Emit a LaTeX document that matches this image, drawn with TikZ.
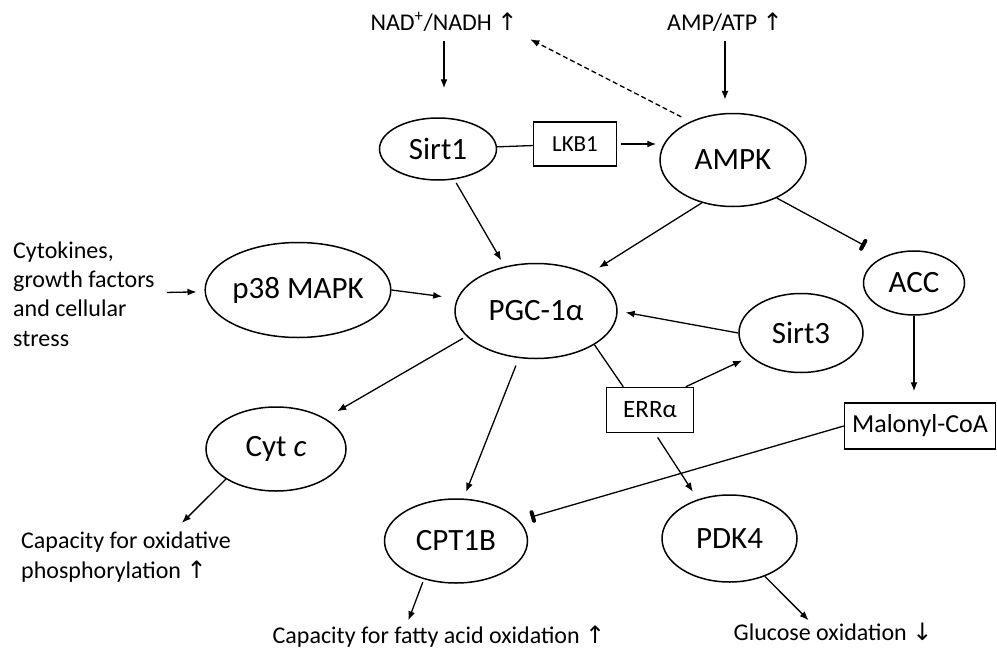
\documentclass[tikz,border=0pt]{standalone}
\usepackage{fontspec}
\setmainfont{Carlito}
\newfontfamily\arrowfont{DejaVu Sans}
\usetikzlibrary{arrows.meta,shapes.geometric,positioning}
\newcommand{\uparr}{{\arrowfont\char"2191}}
\newcommand{\downarr}{{\arrowfont\char"2193}}

\begin{document}
\begin{tikzpicture}[x=1pt,y=-1pt,
    prot/.style={draw,ellipse,line width=1.5pt,inner sep=0pt,
      font=\fontsize{31}{37}\selectfont},
    mol/.style={draw,rectangle,line width=1.5pt,inner sep=0pt},
    txt/.style={inner sep=2pt,font=\fontsize{24}{29.3}\selectfont},
    act/.style={line width=1.3pt,-{Latex[length=9pt,width=7pt]}},
    inh/.style={line width=1.3pt,-{Bar[width=9pt,line width=4pt,round]}},
    lnk/.style={line width=1.3pt}]
      \useasboundingbox (0,0) rectangle (997,648);
      % upstream signals
      \node [txt] (nad) at (444,22) {NAD\textsuperscript{+}/NADH \uparr};
      \node [txt] (amp) at (725,22) {AMP/ATP \uparr};
      \node [txt,anchor=west,align=left] (cyto) at (11,294)
      {Cytokines,\\growth factors\\and cellular\\stress};
      % sensors and kinases
      \node [prot,minimum width=117pt,minimum height=62pt] (sirtone)
      at (438,149) {Sirt1};
      \node [mol,minimum width=83pt,minimum height=44pt,
      font=\fontsize{23}{27}\selectfont] (lkb) at (575,144) {LKB1};
      \node [prot,minimum width=146pt,minimum height=93pt] (ampk)
      at (733,160) {AMPK};
      \node [prot,minimum width=154pt,minimum height=95pt] (pmapk)
      at (298,290) {p38 MAPK};
      \node [prot,minimum width=162pt,minimum height=95pt] (pgc)
      at (536,311) {PGC-1α};
      \node [prot,minimum width=101pt,minimum height=64pt] (acc)
      at (914,283) {ACC};
      \node [prot,minimum width=124pt,minimum height=79pt] (sirtthree)
      at (801,333) {Sirt3};
      \node [mol,minimum width=87pt,minimum height=45pt,
      font=\fontsize{25}{30}\selectfont] (erra) at (650,410) {ERRα};
      \node [mol,minimum width=151pt,minimum height=46pt,
      font=\fontsize{26}{31}\selectfont] (malcoa) at (920,426) {Malonyl-CoA};
      % targets
      \node [prot,minimum width=140pt,minimum height=84pt] (cytc)
      at (276,449) {Cyt \textit{c}};
      \node [prot,minimum width=143pt,minimum height=84pt] (cpt)
      at (456,541) {CPT1B};
      \node [prot,minimum width=135pt,minimum height=87pt] (pdk)
      at (729.5,538.5) {PDK4};
      % outcomes
      \node [txt,anchor=west,align=left] (oxphos) at (19,557)
      {Capacity for oxidative\\phosphorylation \uparr};
      \node [txt] (faox) at (439,637)
      {Capacity for fatty acid oxidation \uparr};
      \node [txt] (glucox) at (833,632) {Glucose oxidation \downarr};
      % connectors
      \draw[act,shorten <=7pt,shorten >=29pt] (nad.south) to (nad.south |- sirtone.north);
      \draw[act,shorten <=7pt,shorten >=13pt] (amp.south) to (amp.south |- ampk.north);
      \draw[act,dash pattern=on 5pt off 3pt,shorten <=10pt,shorten >=12pt]
      (ampk.138) to (nad.south east);
      \draw[lnk] (sirtone) to (lkb);
      \draw[act,shorten <=4pt,shorten >=3pt] (lkb.east) to (lkb.east -| ampk.west);
      \draw[act,shorten <=4pt,shorten >=7pt] (sirtone.-62) to (pgc.125);
      \draw[act,shorten >=12pt] (ampk.234) to (pgc.35);
      \draw[inh,shorten >=22pt] (ampk.-41) to (acc.138);
      \draw[act,shorten <=10pt,shorten >=8pt] (cyto) to (pmapk);
      \draw[act,shorten >=15pt] (pmapk.east) to (pgc.171);
      \draw[act,shorten >=8pt] (sirtthree.west) to (pgc.east);
      \draw[act,shorten <=4pt,shorten >=14pt] (pgc.200) to (cytc.32);
      \draw[act,shorten <=8pt,shorten >=7pt] (pgc.250) to (cpt.80);
      \draw[lnk] (pgc.-30) to (erra.139);
      \draw[act,shorten >=9pt] (erra.33) to (sirtthree.205);
      \draw[act,shorten <=5pt,shorten >=9pt] (erra.-78) to (pdk.129);
      \draw[act,shorten >=11pt] (acc.south) to (acc.south |- malcoa.north);
      \draw[inh,shorten >=12pt] (malcoa.west) to (cpt.18);
      \draw[act,shorten >=10pt] (cytc.211) to (oxphos.29);
      \draw[act,shorten <=3pt,shorten >=4pt] (cpt.230) to (faox.158);
      \draw[act,shorten >=1pt] (pdk.-47) to (glucox.155);
\end{tikzpicture}
\end{document}
